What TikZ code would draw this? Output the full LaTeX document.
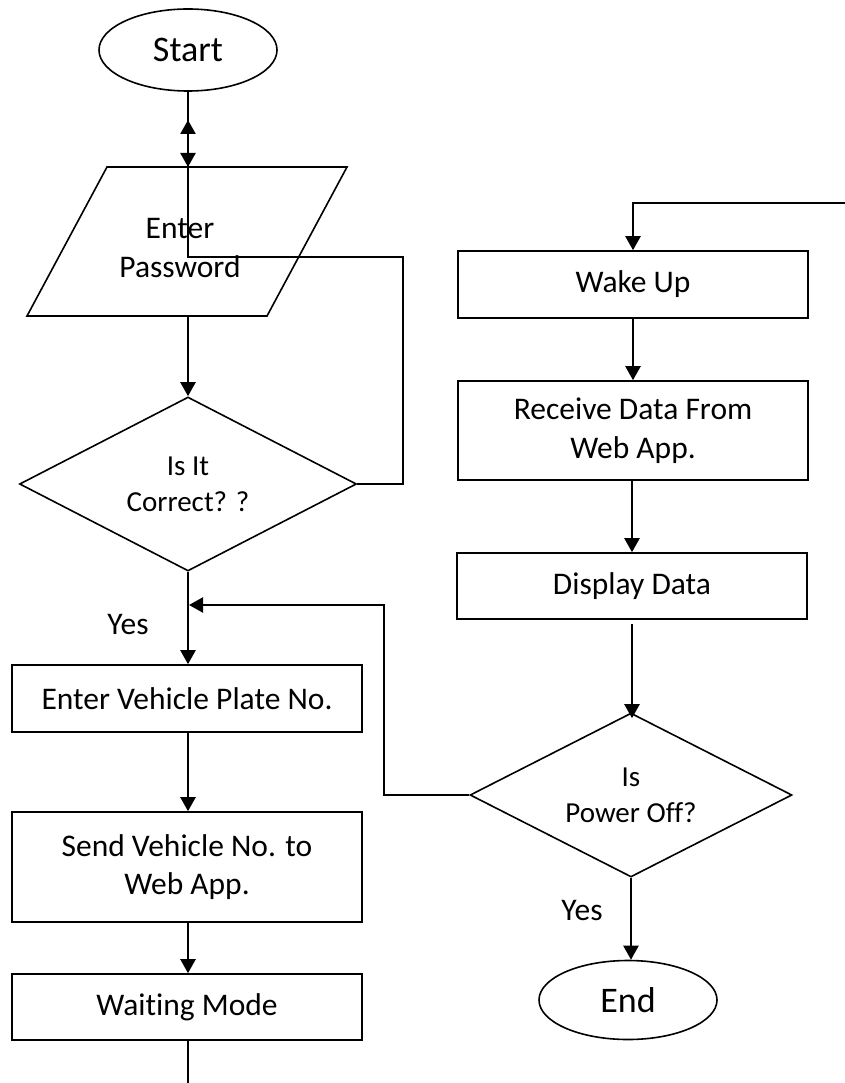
\documentclass[tikz,border=0pt]{standalone}
\usepackage{fontspec}
\setmainfont{Carlito}[Ligatures=NoCommon]
\usetikzlibrary{shapes.geometric,arrows.meta}
\begin{document}
\begin{tikzpicture}[x=1pt,y=-1pt,
  every node/.style={font=\fontsize{31.5}{38.5}\selectfont, inner sep=0pt, align=center},
  shapeline/.style={draw, line width=1.6pt},
  term/.style={shapeline, ellipse, minimum width=178pt, font=\fontsize{36}{42}\selectfont},
  procbox/.style={shapeline, rectangle, minimum width=350pt},
  decision/.style={shapeline, diamond, aspect=1.9, font=\fontsize{29}{36}\selectfont},
  conn/.style={line width=2.3pt},
  arr/.style={conn, -{Triangle[width=15pt,length=14pt]}},
  lbl/.style={font=\fontsize{31.5}{38.5}\selectfont}
]
\useasboundingbox (0,0) rectangle (845,1083);

% left column
\node[term, minimum height=82pt] (start) at (188,50) {Start};
\draw[shapeline] (107,167) -- (347,167) -- (267,316) -- (27,316) -- cycle;
\coordinate (pwN) at (188,167);
\coordinate (pwS) at (188,316);
\node (pw) at (180,248) {Enter\\Password};
\node[decision, minimum width=337pt, minimum height=174pt] (d1) at (188,484) {Is It\\Correct? ?};
\node[procbox, minimum height=67pt] (ev) at (187,698.5) {Enter Vehicle Plate No.};
\node[procbox, minimum height=110pt] (send) at (187,867) {Send Vehicle No. to\\Web App.};
\node[procbox, minimum height=66pt] (wait) at (187,1007) {Waiting Mode};

% right column
\node[procbox, minimum height=67pt] (wake) at (633,284.5) {Wake Up};
\node[procbox, minimum height=99pt] (recv) at (633,430.5) {Receive Data From\\Web App.};
\node[procbox, minimum height=66pt] (disp) at (632,586) {Display Data};
\node[decision, minimum width=322pt, minimum height=164pt] (d2) at (631,795) {Is\\Power Off?};
\node[term, minimum height=79pt] (end) at (628,1000) {End};

% labels
\node[lbl] (yes1) at (128,625) {Yes};
\node[lbl] (yes2) at (582,910) {Yes};

% coordinates for free ends and bends
\coordinate (loopB) at (403,257);
\coordinate (loopEnd) at (188,120);
\coordinate (fbB) at (384,605);
\coordinate (fbEnd) at (189,605);
\coordinate (waitEnd) at (188,1083);
\coordinate (topIn) at (845,203);
\coordinate (topBend) at (633,203);
\coordinate (colL) at (188,0);
\coordinate (colR) at (632,0);

% connectors
\draw[arr] (start.south) -- (pwN);
\draw[arr] (d1.east) -| (loopB) -| (loopEnd);
\draw[arr] (pwS) -- (d1.north);
\draw[arr] (d1.south) -- (colL |- ev.north);
\draw[arr] (d2.west) -| (fbB) -- (fbEnd);
\draw[arr] (colL |- ev.south) -- (colL |- send.north);
\draw[arr] (colL |- send.south) -- (colL |- wait.north);
\draw[conn] (colL |- wait.south) -- (waitEnd);
\draw[arr] (topIn) -- (topBend) -- (wake.north);
\draw[arr] (wake.south) -- (recv.north);
\draw[arr] (colR |- recv.south) -- (colR |- disp.north);
\draw[arr] ([yshift=-4pt]colR |- disp.south) -- ([yshift=-6pt]colR |- d2.north);
\draw[arr] (d2.south) -- (d2.south |- end.north);
\end{tikzpicture}
\end{document}
